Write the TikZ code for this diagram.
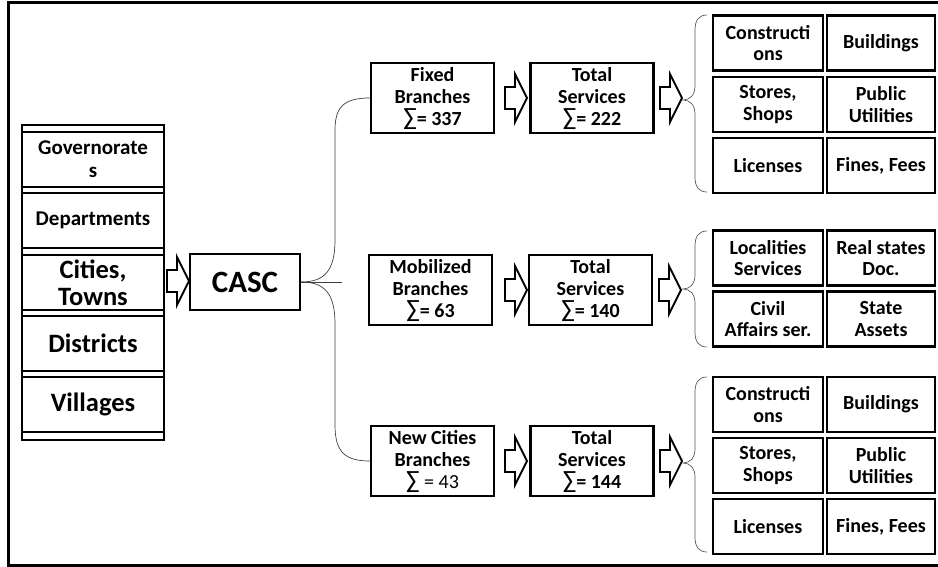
\documentclass[tikz,border=0pt]{standalone}
\usepackage{fontspec}
\setmainfont{Carlito}
\newcommand\blkarrow[2]{\draw[barrow] (#1,#2-11) -- (#1+10,#2-11) -- (#1+10,#2-24) -- (#1+22,#2) -- (#1+10,#2+24) -- (#1+10,#2+11) -- (#1,#2+11) -- cycle;}
\newcommand\grpbrace[3]{\draw[brace] (707,#1) .. controls (699,#1) and (695,#1+5) .. (695,#1+15) -- (695,#2-14) .. controls (695,#2-5) and (690,#2) .. (683,#2) .. controls (690,#2) and (695,#2+5) .. (695,#2+14) -- (695,#3-15) .. controls (695,#3-5) and (699,#3) .. (707,#3);}
\newcommand\sumsym{{\mdseries\fontsize{25}{22}\selectfont ∑}}
\begin{document}
\begin{tikzpicture}[x=1pt,y=-1pt,
  box/.style={draw, line width=2.4pt, fill=white, align=center, inner sep=0pt,
    font=\bfseries\fontsize{20}{21.5}\selectfont},
  lvl/.style={box, minimum width=142pt, minimum height=55pt, font=\bfseries\fontsize{21}{23}\selectfont},
  biglvl/.style={lvl, font=\bfseries\fontsize{26.5}{27}\selectfont},
  br/.style={box, minimum width=123pt, minimum height=70pt, font=\bfseries\fontsize{20}{22}\selectfont},
  svc/.style={box, minimum width=110pt, minimum height=55pt},
  svcb/.style={box, minimum width=108pt, minimum height=55pt},
  link/.style={draw=black!75, line width=0.7pt},
  brace/.style={draw=black!65, line width=0.7pt},
  barrow/.style={draw, line width=1.8pt, fill=white, line join=miter},
  frame/.style={line width=3pt}]
\useasboundingbox (0,0) rectangle (938,567);
\fill[white] (0,0) rectangle (938,567);
% frame
\draw[frame] (938,3) -- (8.5,3) -- (8.5,565) -- (938,565);
% left stack
\draw[line width=2.4pt] (22,125) rectangle (164,440);
\node[lvl] (gov) at (93,159.5) {Governorate\\s};
\node[lvl] (dep) at (93,220.5) {Departments};
\node[biglvl] (cit) at (93,282.5) {Cities,\\Towns};
\node[biglvl] (dis) at (93,343.5) {Districts};
\node[biglvl] (vil) at (93,404.5) {Villages};
% CASC
\blkarrow{167}{281}
\node[box, minimum width=110pt, minimum height=56pt, font=\bfseries\fontsize{31}{34}\selectfont] (casc) at (245,282) {CASC};
% branches
\node[br] (fix) at (432.5,98) {Fixed\\Branches\\\sumsym= 337};
\node[br] (ts1) at (592,98) {Total\\Services\\\sumsym= 222};
\node[br] (mob) at (430.5,290) {Mobilized\\Branches\\\sumsym= 63};
\node[br] (ts2) at (590.5,290) {Total\\Services\\\sumsym= 140};
\node[br] (new) at (432.5,461) {New Cities\\Branches\\\sumsym{\mdseries{} = 43}};
\node[br] (ts3) at (592,461) {Total\\Services\\\sumsym= 144};
\blkarrow{505}{98}
\blkarrow{660}{98}
\blkarrow{505}{290}
\blkarrow{659}{290}
\blkarrow{505}{461}
\blkarrow{660}{461}
% links
\coordinate (mend) at (342,282);
\draw[link] (casc.east) .. controls (325,282) and (335,270) .. (335,240) -- (335,130) .. controls (335,106) and (345,98) .. (fix.west);
\draw[link] (casc.east) -- (mend);
\draw[link] (casc.east) .. controls (325,282) and (335,294) .. (335,324) -- (335,425) .. controls (335,452) and (345,461) .. (new.west);
% braces
\grpbrace{15}{100}{192}
\grpbrace{231}{289}{347}
\grpbrace{377}{463}{552}
% top grid
\node[svc] (a1) at (768,43) {Constructi\\ons};
\node[svcb] (a2) at (881,43) {Buildings};
\node[svc] (a3) at (768,104.5) {Stores,\\Shops};
\node[svcb] (a4) at (881,104.5) {Public\\Utilities};
\node[svc] (a5) at (768,165.5) {Licenses};
\node[svcb] (a6) at (881,165.5) {Fines, Fees};
% middle grid
\node[svc] (b1) at (768,258) {Localities\\Services};
\node[svcb] (b2) at (881,258) {Real states\\Doc.};
\node[svc] (b3) at (768,319) {Civil\\Affairs ser.};
\node[svcb] (b4) at (881,319) {State\\Assets};
% bottom grid
\node[svc] (c1) at (768,404.5) {Constructi\\ons};
\node[svcb] (c2) at (881,404.5) {Buildings};
\node[svc] (c3) at (768,465.5) {Stores,\\Shops};
\node[svcb] (c4) at (881,465.5) {Public\\Utilities};
\node[svc] (c5) at (768,526.5) {Licenses};
\node[svcb] (c6) at (881,526.5) {Fines, Fees};
\end{tikzpicture}
\end{document}
